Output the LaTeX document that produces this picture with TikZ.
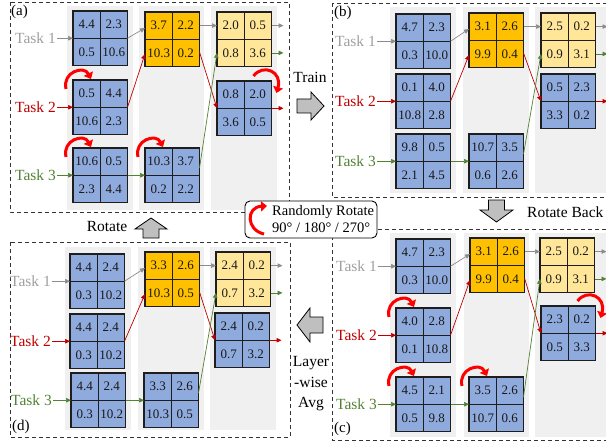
\documentclass[tikz,border=0pt]{standalone}
\usepackage{fontspec}
\setmainfont{Liberation Serif}
\usetikzlibrary{arrows.meta,calc}
\definecolor{cblue}{HTML}{8FAADC}
\definecolor{corange}{HTML}{FFC000}
\definecolor{cyellow}{HTML}{FFE699}
\definecolor{colgray}{HTML}{F0F0F0}
\definecolor{tgray}{HTML}{A0A0A0}
\definecolor{agray}{HTML}{8C8C8C}
\definecolor{tred}{HTML}{C00000}
\definecolor{tgreen}{HTML}{548235}
\definecolor{rotred}{HTML}{FF0000}
\definecolor{matc}{HTML}{1E1E1E}
\definecolor{dashc}{HTML}{333333}
\definecolor{arrgray}{HTML}{BFBFBF}
\tikzset{
 mat/.style={draw=matc, line width=1.1pt, minimum size=54.5pt, inner sep=0pt, outer sep=0pt},
 num/.style={font=\fontsize{13}{13}\selectfont, inner sep=0pt, text=black!90},
 tlab/.style={font=\fontsize{15.5}{16}\selectfont, inner sep=1pt, anchor=east},
 conn/.style={line width=0.7pt, -{Triangle[length=5pt,width=4.5pt]}},
 rot/.style={draw=rotred, line width=3pt, -{Triangle[length=6pt,width=10pt]}},
 colbg/.style={fill=colgray, draw=none},
 panel/.style={draw=dashc, line width=0.9pt, dash pattern=on 4pt off 3pt},
 barrow/.style={fill=arrgray, draw=black, line width=0.8pt, line join=miter},
 txt/.style={font=\fontsize{15.5}{20.5}\selectfont, inner sep=0pt},
 plab/.style={font=\fontsize{15}{15}\selectfont, inner sep=0pt},
}
\newcommand\mymat[8]{%
 \node[mat, fill=#4] (#1) at (#2+27.25,#3+27.25) {};
 \draw[draw=matc, line width=1.1pt] (#1.north) -- (#1.south) (#1.west) -- (#1.east);
 \node[num] at ($(#1.center)+(-13.6,-13.6)$) {#5};
 \node[num] at ($(#1.center)+(13.6,-13.6)$) {#6};
 \node[num] at ($(#1.center)+(-13.6,13.6)$) {#7};
 \node[num] at ($(#1.center)+(13.6,13.6)$) {#8};
}
\newcommand\rotTL[1]{\draw[rot] ($(#1.north west)+(-7,9)$) .. controls ($(#1.north west)+(-11,-8)$) and ($(#1.north west)+(11,-15)$) .. ($(#1.north west)+(18,-1)$);}
\newcommand\rotTR[1]{\draw[rot] ($(#1.north east)+(-18,-5)$) .. controls ($(#1.north east)+(-8,-18)$) and ($(#1.north east)+(11,-9)$) .. ($(#1.north east)+(5,12)$);}
\newcommand\panelconn[8]{% T1 T2 T3 O C Y B gap
 \node[tlab, text=tgray] (#1l) at ($(#1.west)+(-#8,0)$) {Task 1};
 \node[tlab, text=tred] (#2l) at ($(#2.west)+(-#8,0)$) {Task 2};
 \node[tlab, text=tgreen] (#3l) at ($(#3.west)+(-#8,0)$) {Task 3};
 \draw[conn, agray] (#1l.east) -- (#1.west);
 \draw[conn, tred] (#2l.east) -- (#2.west);
 \draw[conn, tgreen] (#3l.east) -- (#3.west);
 \draw[conn, agray] (#1.east) -- ($(#4.north west)+(0,16)$);
 \draw[conn, tred] (#2.east) -- ($(#4.north west)+(0,42)$);
 \draw[conn, agray] ($(#4.north east)+(0,13.6)$) -- ($(#6.north west)+(0,13.6)$);
 \draw[conn, tred] ($(#4.north east)+(0,40)$) -- (#7.west);
 \draw[conn, tgreen] (#3.east) -- (#5.west);
 \draw[conn, tgreen] ($(#5.north east)+(0,20)$) -- ($(#6.north west)+(0,40.9)$);
 \draw[conn, agray] ($(#6.north east)+(0,13.6)$) -- ++(12,0);
 \draw[conn, tgreen] ($(#6.north east)+(0,40.9)$) -- ++(12,0);
 \draw[conn, tred] (#7.east) -- ++(12,0);
}
\begin{document}
\begin{tikzpicture}[x=1pt,y=-1pt]
\useasboundingbox (0,0) rectangle (606,444);
\clip (0,0) rectangle (606,444);
\fill[white] (0,0) rectangle (606,444);
% columns
\foreach \xa/\xb in {67/133,139/204,211/277} \fill[colgray] (\xa,6) rectangle (\xb,210);
\foreach \xa/\xb in {390/456,463/529,535/612} \fill[colgray] (\xa,7) rectangle (\xb,193);
\foreach \xa/\xb in {390/456,464/529,535/612} \fill[colgray] (\xa,233) rectangle (\xb,437);
\foreach \xa/\xb in {65/131,138/204,210/276} \fill[colgray] (\xa,247) rectangle (\xb,430);
% panels
\draw[panel] (10,2) rectangle (289,212);
\draw[panel] (332,3) rectangle (615,197);
\draw[panel] (332,229) rectangle (615,440);
\draw[panel] (10,242) rectangle (290,437);
\node[plab, anchor=north west] (la) at (11,5) {(a)};
\node[plab, anchor=north west] (lb) at (334,6) {(b)};
\node[plab, anchor=south west] (lc) at (334,436) {(c)};
\node[plab, anchor=south west] (ld) at (12,434) {(d)};
% (a)
\mymat{A1}{73}{11}{cblue}{4.4}{2.3}{0.5}{10.6}
\mymat{A2}{73}{80}{cblue}{0.5}{4.4}{10.6}{2.3}
\mymat{A3}{73}{148}{cblue}{10.6}{0.5}{2.3}{4.4}
\mymat{AO}{145}{12}{corange}{3.7}{2.2}{10.3}{0.2}
\mymat{AC}{145}{148}{cblue}{10.3}{3.7}{0.2}{2.2}
\mymat{AY}{217}{12}{cyellow}{2.0}{0.5}{0.8}{3.6}
\mymat{AB}{217}{81}{cblue}{0.8}{2.0}{3.6}{0.5}
\panelconn{A1}{A2}{A3}{AO}{AC}{AY}{AB}{16}
\rotTL{A2}\rotTL{A3}\rotTL{AC}\rotTR{AB}
% (b)
\mymat{B1}{396}{14}{cblue}{4.7}{2.3}{0.3}{10.0}
\mymat{B2}{396}{74}{cblue}{0.1}{4.0}{10.8}{2.8}
\mymat{B3}{396}{134}{cblue}{9.8}{0.5}{2.1}{4.5}
\mymat{BO}{469}{13}{corange}{3.1}{2.6}{9.9}{0.4}
\mymat{BC}{469}{134}{cblue}{10.7}{3.5}{0.6}{2.6}
\mymat{BY}{541}{13}{cyellow}{2.5}{0.2}{0.9}{3.1}
\mymat{BB}{541}{74}{cblue}{0.5}{2.3}{3.3}{0.2}
\panelconn{B1}{B2}{B3}{BO}{BC}{BY}{BB}{19}
% (c)
\mymat{C1}{396}{239}{cblue}{4.7}{2.3}{0.3}{10.0}
\mymat{C2}{396}{308}{cblue}{4.0}{2.8}{0.1}{10.8}
\mymat{C3}{396}{377}{cblue}{4.5}{2.1}{0.5}{9.8}
\mymat{CO}{470}{238}{corange}{3.1}{2.6}{9.9}{0.4}
\mymat{CC}{469}{377}{cblue}{3.5}{2.6}{10.7}{0.6}
\mymat{CY}{540}{238}{cyellow}{2.5}{0.2}{0.9}{3.1}
\mymat{CB}{541}{306}{cblue}{2.3}{0.2}{0.5}{3.3}
\panelconn{C1}{C2}{C3}{CO}{CC}{CY}{CB}{18}
\rotTL{C2}\rotTL{C3}\rotTL{CC}\rotTR{CB}
% (d)
\mymat{D1}{70}{254}{cblue}{4.4}{2.4}{0.3}{10.2}
\mymat{D2}{70}{314}{cblue}{4.4}{2.4}{0.3}{10.2}
\mymat{D3}{71}{373}{cblue}{4.4}{2.4}{0.3}{10.2}
\mymat{DO}{145}{252}{corange}{3.3}{2.6}{10.3}{0.5}
\mymat{DC}{144}{373}{cblue}{3.3}{2.6}{10.3}{0.5}
\mymat{DY}{216}{252}{cyellow}{2.4}{0.2}{0.7}{3.2}
\mymat{DB}{215}{313}{cblue}{2.4}{0.2}{0.7}{3.2}
\panelconn{D1}{D2}{D3}{DO}{DC}{DY}{DB}{18}
% transitions
\node[txt] (train) at (310,77) {Train};
\draw[barrow] (297,99) -- (311,99) -- (311,92) -- (324,106) -- (311,120) -- (311,113) -- (297,113) -- cycle;
\node[txt, anchor=west] (rback) at (527,212) {Rotate Back};
\draw[barrow] (488.5,200) -- (504.5,200) -- (504.5,210) -- (513,210) -- (496.5,222) -- (480,210) -- (488.5,210) -- cycle;
\node[txt] (rot) at (107,227) {Rotate};
\draw[barrow] (143,238) -- (159,238) -- (159,229) -- (167,229) -- (151,218) -- (135,229) -- (143,229) -- cycle;
\node[txt, align=center] (avg) at (311,384) {Layer\\-wise\\Avg};
\draw[barrow] (323,317) -- (310,317) -- (310,308) -- (297,325) -- (310,342) -- (310,333) -- (323,333) -- cycle;
% legend
\node[draw=black, rounded corners=5pt, fill=white, line width=0.9pt, minimum width=132pt, minimum height=37pt, inner sep=0pt] (leg) at (311,219.5) {};
\node[font=\fontsize{14.5}{17}\selectfont, align=left, anchor=west, inner sep=0pt] (legt) at (272,219.5) {Randomly Rotate\\90° / 180° / 270°};
\draw[rot] (264,234) .. controls (246,230) and (246,207) .. (267,206);
\end{tikzpicture}
\end{document}
